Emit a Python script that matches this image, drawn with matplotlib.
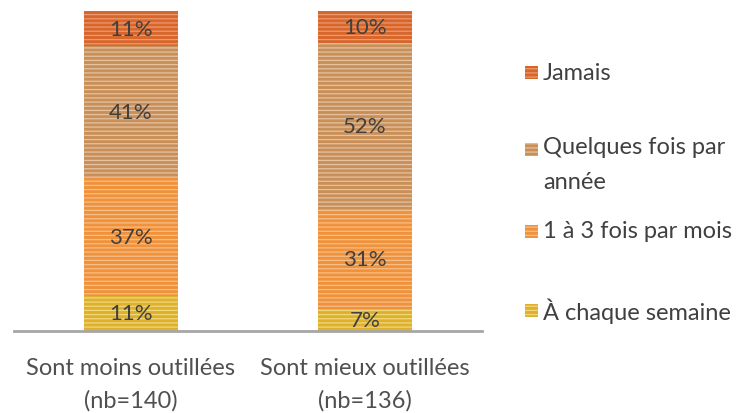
import matplotlib.pyplot as plt
from matplotlib.patches import Rectangle

plt.rcParams['font.family'] = ['Lato', 'DejaVu Sans']
plt.rcParams['hatch.linewidth'] = 0.9

groups = ['Sont moins outillées\n(nb=140)', 'Sont mieux outillées\n(nb=136)']
series = ['À chaque semaine', '1 à 3 fois par mois', 'Quelques fois par\nannée', 'Jamais']
values = [
    [11, 7],    # À chaque semaine
    [37, 31],   # 1 à 3 fois par mois
    [41, 52],   # Quelques fois par année
    [11, 10],   # Jamais
]
colors = ['#DDB02E', '#F0923C', '#C98F58', '#D8662C']
hatch_colors = ['#F3D878', '#F7BE86', '#E6C2A0', '#EC9A6E']

fig = plt.figure(figsize=(7.4, 4.14), dpi=100)
ax = fig.add_axes([0.019, 0.198, 0.632, 0.773])

x = range(len(groups))
bottom = [0, 0]
for vals, c, hc in zip(values, colors, hatch_colors):
    ax.bar(x, vals, 0.40, bottom=bottom, color=c, edgecolor=hc,
           hatch='----', linewidth=0)
    for xi, v, b in zip(x, vals, bottom):
        ax.text(xi, b + v / 2, f'{v}%', ha='center', va='center',
                fontsize=16, color='#404040')
    bottom = [b + v for b, v in zip(bottom, vals)]

ax.set_xlim(-0.5, 1.5)
ax.set_ylim(0, 100)
ax.set_yticks([])
ax.set_xticks(list(x))
ax.set_xticklabels(groups, fontsize=17, color='#505050', linespacing=1.6)
ax.tick_params(axis='x', length=0, pad=19)
for s in ['top', 'left', 'right']:
    ax.spines[s].set_visible(False)
ax.spines['bottom'].set_color('#A6A6A6')
ax.spines['bottom'].set_linewidth(2)

# legend, drawn by hand (Jamais on top)
leg_y = [73, 150, 232, 311]
for lab, c, hc, yy in zip(series[::-1], colors[::-1], hatch_colors[::-1], leg_y):
    fy = 1 - yy / 414
    fig.add_artist(Rectangle((525 / 740, fy - 7 / 414), 13 / 740, 13 / 414,
                             transform=fig.transFigure, facecolor=c,
                             edgecolor=hc, hatch='----', linewidth=0))
    if '\n' in lab:
        fig.text(543 / 740, fy + 13 / 414, lab, ha='left', va='top',
                 fontsize=17, color='#404040', linespacing=1.8)
    else:
        fig.text(543 / 740, fy, lab, ha='left', va='center',
                 fontsize=17, color='#404040')

fig.savefig('out.png', dpi=100)
